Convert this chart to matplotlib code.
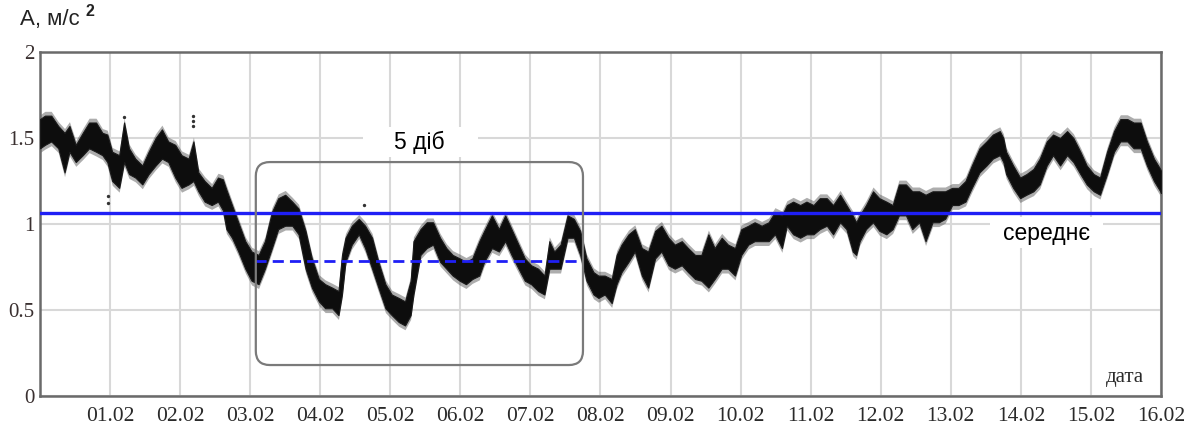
import matplotlib
matplotlib.use("Agg")
import matplotlib.pyplot as plt
from matplotlib.patches import FancyBboxPatch, Rectangle

# Acceleration record: day offset from 31.01 and upper/lower envelope of the samples (m/s^2)
day = [0.00, 0.07, 0.16, 0.26, 0.35, 0.42, 0.51, 0.61, 0.70, 0.80, 0.89, 0.96,
       1.03, 1.13, 1.20, 1.27, 1.36, 1.46, 1.55, 1.65, 1.74, 1.83, 1.93,
       2.02, 2.12, 2.19, 2.26, 2.35, 2.45, 2.54, 2.61, 2.66, 2.74, 2.83, 2.93,
       3.02, 3.12, 3.21, 3.31, 3.40, 3.50, 3.60, 3.69, 3.79, 3.88, 3.98,
       4.07, 4.17, 4.26, 4.31, 4.36, 4.45, 4.55, 4.64, 4.74, 4.83, 4.93,
       5.02, 5.12, 5.21, 5.29, 5.33, 5.43, 5.52, 5.61, 5.71, 5.80, 5.89, 5.99,
       6.08, 6.17, 6.27, 6.34, 6.45, 6.55, 6.64, 6.73, 6.83, 6.92,
       7.01, 7.11, 7.20, 7.27, 7.34, 7.43, 7.53, 7.62, 7.71, 7.80, 7.90, 7.97,
       8.06, 8.16, 8.23, 8.30, 8.40, 8.49, 8.59, 8.68, 8.78, 8.87, 8.97,
       9.06, 9.16, 9.25, 9.35, 9.44, 9.54, 9.63, 9.73, 9.82, 9.92,
       10.01, 10.11, 10.20, 10.30, 10.40, 10.49, 10.59, 10.66, 10.75, 10.85, 10.94,
       11.04, 11.13, 11.23, 11.32, 11.42, 11.51, 11.60, 11.65, 11.70, 11.79, 11.89, 11.98,
       12.08, 12.17, 12.26, 12.36, 12.45, 12.55, 12.64, 12.74, 12.83, 12.92,
       13.02, 13.11, 13.21, 13.30, 13.41, 13.51, 13.60, 13.70, 13.75, 13.79, 13.89, 13.99,
       14.08, 14.18, 14.27, 14.37, 14.46, 14.56, 14.66, 14.75, 14.85, 14.94,
       15.04, 15.13, 15.23, 15.33, 15.42, 15.52, 15.61, 15.71, 15.80, 15.90, 15.99, 16.00]

upper = [1.61, 1.63, 1.63, 1.57, 1.53, 1.57, 1.46, 1.53, 1.59, 1.59, 1.53, 1.52,
         1.42, 1.40, 1.59, 1.44, 1.38, 1.34, 1.42, 1.50, 1.55, 1.48, 1.46,
         1.40, 1.38, 1.48, 1.30, 1.25, 1.21, 1.27, 1.26, 1.20, 1.11, 1.01, 0.90,
         0.84, 0.82, 0.90, 1.07, 1.15, 1.17, 1.13, 1.09, 0.96, 0.80, 0.68,
         0.65, 0.63, 0.61, 0.82, 0.92, 0.99, 1.03, 0.99, 0.92, 0.78, 0.65,
         0.59, 0.57, 0.55, 0.67, 0.90, 0.97, 1.01, 1.01, 0.92, 0.86, 0.82, 0.80,
         0.78, 0.80, 0.90, 0.96, 1.05, 0.97, 1.05, 0.97, 0.88, 0.80,
         0.76, 0.74, 0.70, 0.90, 0.84, 0.88, 1.05, 1.03, 0.96, 0.80, 0.72, 0.70,
         0.70, 0.68, 0.82, 0.88, 0.94, 0.97, 0.86, 0.84, 0.96, 0.99, 0.92,
         0.88, 0.90, 0.86, 0.82, 0.82, 0.94, 0.86, 0.92, 0.88, 0.86,
         0.97, 0.99, 1.01, 0.99, 1.01, 1.07, 1.05, 1.11, 1.13, 1.11, 1.13,
         1.11, 1.15, 1.15, 1.11, 1.17, 1.11, 1.05, 1.01, 1.05, 1.11, 1.19, 1.15,
         1.13, 1.11, 1.23, 1.23, 1.19, 1.19, 1.17, 1.19, 1.19, 1.19,
         1.21, 1.21, 1.25, 1.34, 1.44, 1.48, 1.52, 1.54, 1.50, 1.42, 1.34, 1.27,
         1.29, 1.32, 1.38, 1.48, 1.52, 1.50, 1.54, 1.50, 1.42, 1.34,
         1.29, 1.27, 1.42, 1.54, 1.61, 1.61, 1.59, 1.59, 1.48, 1.38, 1.32, 1.31]

lower = [1.44, 1.46, 1.48, 1.44, 1.30, 1.42, 1.36, 1.40, 1.44, 1.42, 1.40, 1.36,
         1.25, 1.21, 1.36, 1.29, 1.27, 1.23, 1.29, 1.34, 1.38, 1.36, 1.27,
         1.21, 1.23, 1.25, 1.19, 1.13, 1.11, 1.13, 1.08, 0.97, 0.92, 0.84, 0.74,
         0.67, 0.65, 0.74, 0.86, 0.97, 0.99, 0.99, 0.94, 0.74, 0.63, 0.55,
         0.51, 0.51, 0.47, 0.59, 0.78, 0.88, 0.94, 0.86, 0.74, 0.63, 0.51,
         0.47, 0.43, 0.41, 0.47, 0.59, 0.82, 0.86, 0.88, 0.78, 0.74, 0.70, 0.67,
         0.65, 0.68, 0.70, 0.78, 0.86, 0.84, 0.90, 0.82, 0.74, 0.67,
         0.65, 0.61, 0.59, 0.74, 0.74, 0.74, 0.92, 0.92, 0.82, 0.67, 0.59, 0.57,
         0.59, 0.54, 0.65, 0.72, 0.78, 0.84, 0.70, 0.63, 0.80, 0.84, 0.76,
         0.74, 0.76, 0.72, 0.68, 0.67, 0.63, 0.68, 0.74, 0.74, 0.70,
         0.82, 0.88, 0.90, 0.90, 0.90, 0.94, 0.86, 0.99, 0.94, 0.92, 0.94,
         0.94, 0.97, 0.99, 0.94, 1.01, 0.97, 0.84, 0.82, 0.90, 0.97, 1.01, 0.96,
         0.94, 0.97, 1.05, 1.05, 0.97, 1.01, 0.90, 1.01, 1.01, 1.03,
         1.11, 1.11, 1.13, 1.21, 1.30, 1.34, 1.38, 1.40, 1.36, 1.29, 1.21, 1.15,
         1.17, 1.19, 1.23, 1.34, 1.40, 1.34, 1.40, 1.36, 1.29, 1.23,
         1.19, 1.17, 1.29, 1.42, 1.48, 1.48, 1.44, 1.44, 1.34, 1.25, 1.19, 1.18]

# Isolated samples lying away from the main band
stray_day = [2.19, 2.19, 2.19, 0.97, 0.97, 4.62, 1.20]
stray_val = [1.63, 1.60, 1.57, 1.16, 1.12, 1.11, 1.62]

mean_level = 1.062          # average over the whole record
window_level = 0.785        # average over the 5-day window
window_start, window_end = 3.07, 7.70

tick_days = [1, 2, 3, 4, 5, 6, 7, 8, 9, 10, 11, 12, 13, 14, 15, 16]
tick_labels = ["01.02", "02.02", "03.02", "04.02", "05.02", "06.02", "07.02", "08.02",
               "09.02", "10.02", "11.02", "12.02", "13.02", "14.02", "15.02", "16.02"]
y_ticks = [0, 0.5, 1, 1.5, 2]
y_labels = ["0", "0.5", "1", "1.5", "2"]

serif = "Liberation Serif"
sans = "Liberation Sans"
blue = "#1f1ff5"

fig = plt.figure(figsize=(11.95, 4.30), dpi=100)
ax = fig.add_axes([0.0335, 0.0791, 0.938, 0.8])
ax.set_xlim(0, 16)
ax.set_ylim(0, 2)

ax.set_axisbelow(True)
ax.grid(True, color="#d8d8d8", lw=1.5)
ax.set_xticks(tick_days, tick_labels)
ax.set_yticks(y_ticks, y_labels)
ax.tick_params(length=0)
ax.tick_params(axis="x", pad=8, labelsize=15.5, labelcolor="#2a2a2a")
ax.tick_params(axis="y", pad=4, labelsize=15, labelcolor="#3a3030")
for lab in ax.get_xticklabels() + ax.get_yticklabels():
    lab.set_family(serif)
for sp in ax.spines.values():
    sp.set_color("#6a6a6a")
    sp.set_linewidth(1.8)

# white patches behind the annotation texts
ax.add_patch(Rectangle((4.61, 1.39), 1.64, 0.175, facecolor="white", edgecolor="none", zorder=1))
ax.add_patch(Rectangle((13.56, 0.86), 1.61, 0.18, facecolor="white", edgecolor="none", zorder=1))

# measured signal: sparse fringe of samples around the dense core band
fringe = 0.025
ax.fill_between(day, [v - fringe for v in lower], [v + fringe for v in upper],
                color="#4a4a4a", alpha=0.45, lw=0, zorder=2.5)
ax.fill_between(day, lower, upper, color="#0d0d0d", lw=0.8, edgecolor="#1a1a1a", zorder=3)
ax.scatter(stray_day, stray_val, s=2, color="#333333", zorder=3)

# average levels
ax.axhline(mean_level, color=blue, lw=2.4, zorder=4)
ax.plot([window_start, window_end], [window_level, window_level], color=blue,
        lw=2.0, ls=(0, (4, 2.2)), zorder=4)

# 5-day window frame (rounded corners kept circular in pixel space)
ax.add_patch(FancyBboxPatch((3.08, 0.18), 4.67, 1.18,
                            boxstyle="round,pad=0,rounding_size=0.2",
                            mutation_aspect=0.407, fill=False,
                            edgecolor="#7a7a7a", lw=1.6, zorder=5))

ax.text(5.42, 1.475, "5 діб", family=sans, fontsize=16.5, ha="center", va="center", zorder=6)
ax.text(14.37, 0.945, "середнє", family=sans, fontsize=16.5, ha="center", va="center", zorder=6)
ax.text(15.48, 0.11, "дата", family=serif, fontsize=15, ha="center", va="center",
        color="#2a2a2a", zorder=6)

fig.text(20 / 1195, 1 - 19 / 430, "A, м/с", family=sans, fontsize=16,
         ha="left", va="center", color="#222222")
fig.text(85 / 1195, 1 - 12 / 430, "2", family=sans, fontsize=11.5, fontweight="bold",
         ha="left", va="center", color="#222222")

fig.savefig("out.png", dpi=100, facecolor="white")
